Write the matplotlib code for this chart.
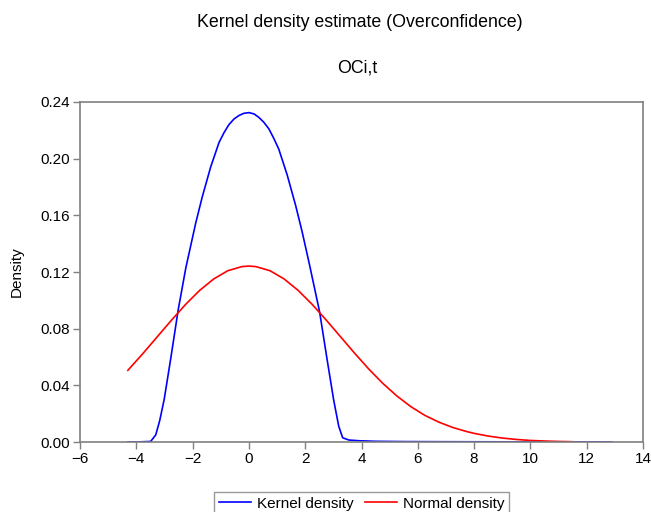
import numpy as np
import matplotlib.pyplot as plt

plt.rcParams['font.family'] = ['Liberation Sans', 'DejaVu Sans']

# kernel density
kernel_x = [-4.3, -3.9, -3.49, -3.31, -3.17, -3.01, -2.78, -2.51, -2.24, -1.89,
            -1.66, -1.36, -1.06, -0.88, -0.71, -0.53, -0.35, -0.18, 0.0, 0.18,
            0.35, 0.53, 0.71, 0.88, 1.06, 1.36, 1.66, 1.89, 2.16, 2.51, 2.78, 3.01,
            3.19, 3.33, 3.55, 3.9, 4.5, 5.5, 7.0, 10.0, 12.9]
kernel_y = [0.0, 0.0001, 0.0004, 0.0050, 0.0150, 0.0300, 0.0585, 0.0935, 0.1230,
            0.1545, 0.1728, 0.1940, 0.2115, 0.2185, 0.2240, 0.2280, 0.2305, 0.2320,
            0.2325, 0.2316, 0.2292, 0.2257, 0.2210, 0.2145, 0.2068, 0.1885, 0.1670,
            0.1485, 0.1245, 0.0920, 0.0580, 0.0298, 0.0112, 0.0030, 0.0014, 0.0009,
            0.0005, 0.0003, 0.0002, 0.0001, 0.0]

# normal density
normal_x = [-4.3, -4.25, -3.75, -3.25, -2.75, -2.25, -1.75, -1.25, -0.75, -0.25,
            0.0, 0.25, 0.75, 1.25, 1.75, 2.25, 2.75, 3.25, 3.75, 4.25, 4.75, 5.25,
            5.75, 6.25, 6.75, 7.25, 7.75, 8.0, 8.5, 9.0, 9.5, 10.0, 10.5, 11.0,
            11.5]
normal_y = [0.0506, 0.0517, 0.0628, 0.0744, 0.0860, 0.0971, 0.1070, 0.1151, 0.1209,
            0.1238, 0.1242, 0.1238, 0.1209, 0.1151, 0.1070, 0.0971, 0.0860, 0.0744,
            0.0628, 0.0517, 0.0415, 0.0326, 0.0250, 0.0188, 0.0140, 0.0102, 0.0073,
            0.0061, 0.0042, 0.0028, 0.0018, 0.0011, 0.0007, 0.0004, 0.0002]

xticks = np.arange(-6, 15, 2)
yticks = [0.00, 0.04, 0.08, 0.12, 0.16, 0.20, 0.24]

fig = plt.figure(figsize=(6.51, 5.12), dpi=100)
ax = fig.add_axes([0.1229, 0.1367, 0.8648, 0.6641])

ax.plot(kernel_x, kernel_y, color='#0000ff', lw=1.2, label='Kernel density')
ax.plot(normal_x, normal_y, color='#ff0000', lw=1.2, label='Normal density')

ax.set_xlim(-6, 14)
ax.set_ylim(0, 0.24)
ax.set_xticks(xticks)
ax.set_xticklabels([str(t).replace('-', '\u2212') for t in xticks])
ax.set_yticks(yticks)
ax.set_yticklabels(['%.2f' % t for t in yticks])
ax.tick_params(direction='out', length=5, width=1, color='#808080',
               labelsize=11, top=False, right=False, pad=2)
for s in ax.spines.values():
    s.set_color('#808080')
    s.set_linewidth(1.2)
ax.set_ylabel('Density', fontsize=11, labelpad=12)

fig.text(0.553, 0.957, 'Kernel density estimate (Overconfidence)',
         ha='center', va='center', fontsize=12.8)
fig.text(0.549, 0.867, 'OCi,t', ha='center', va='center', fontsize=12.8)

leg = fig.legend(loc='upper center', bbox_to_anchor=(361.5 / 651, 1 - 492 / 512),
                 ncol=2, fontsize=11, frameon=True, fancybox=False,
                 edgecolor='#808080', handlelength=2.1, columnspacing=0.75,
                 handletextpad=0.4, borderpad=0.3, borderaxespad=0)
leg.get_frame().set_linewidth(1.0)

fig.savefig('out.png', dpi=100)
